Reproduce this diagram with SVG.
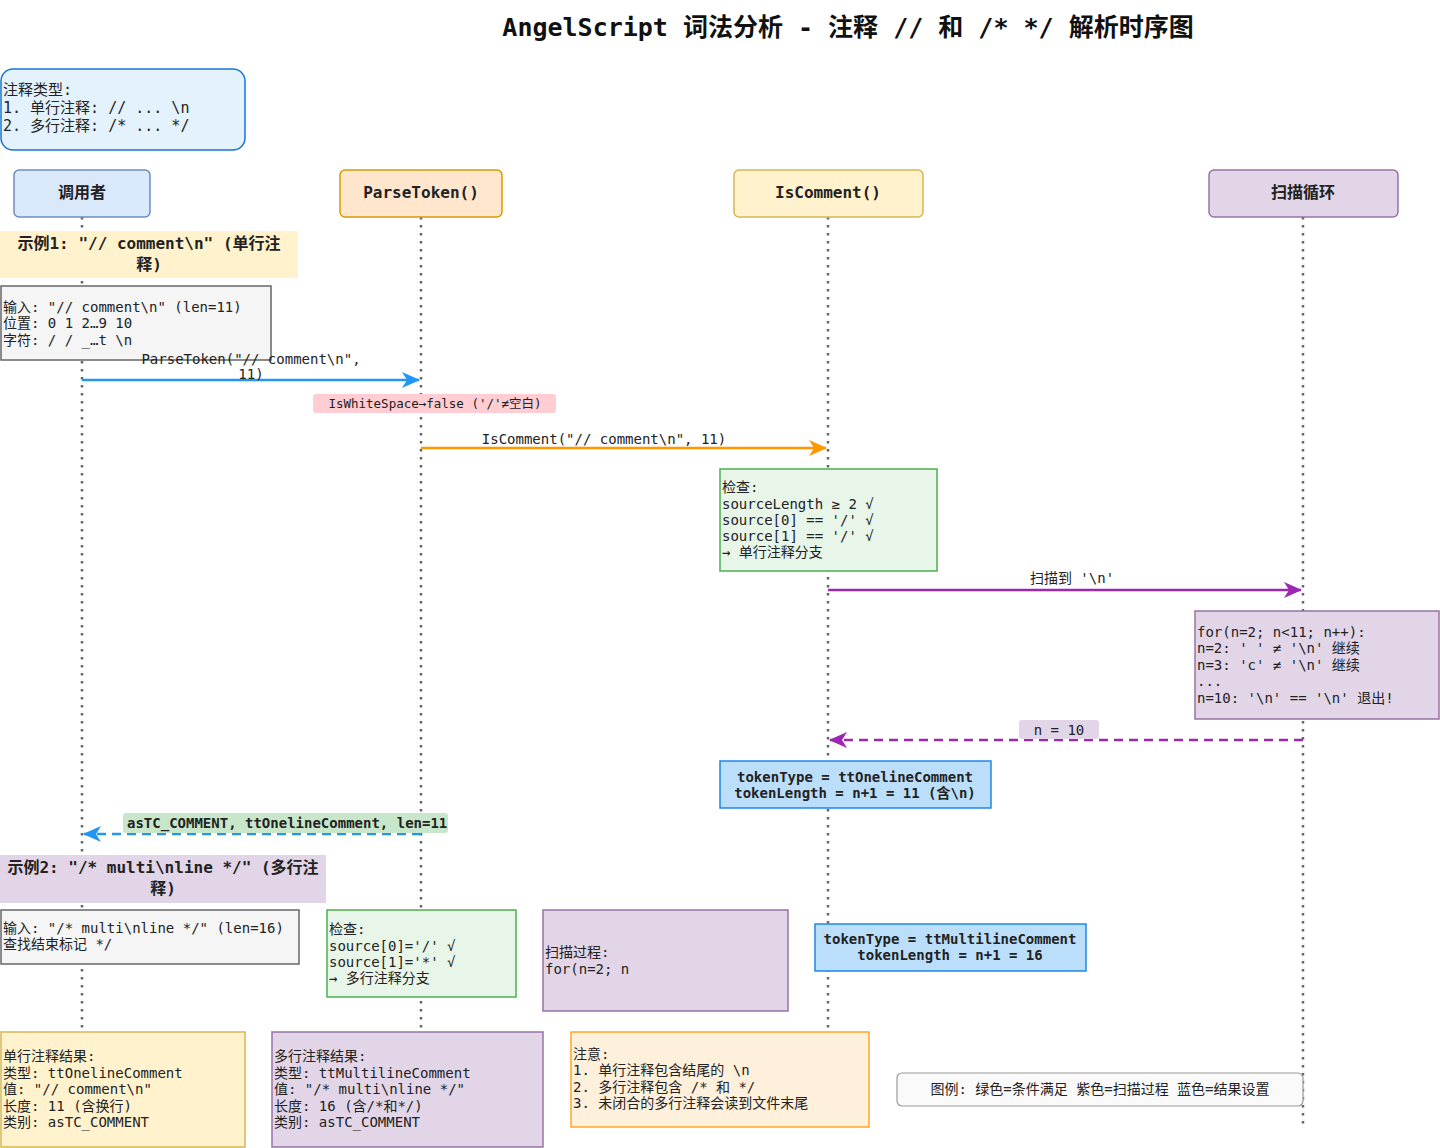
<svg xmlns="http://www.w3.org/2000/svg" width="1440" height="1148" viewBox="0 0 1440 1148">
<style>
text{font-family:"DejaVu Sans Mono","Noto Sans CJK SC",monospace;font-size:14px;fill:#222}
.t{font-size:25px;font-weight:bold;fill:#111}
.h{font-size:16px;font-weight:bold;text-anchor:middle}
.b{font-weight:bold}
.ex{font-size:16px;font-weight:bold;text-anchor:middle}
.c{text-anchor:middle}
.life{stroke:#666;stroke-width:2.5;stroke-dasharray:2.5 5.5;fill:none}
.msg{stroke-width:2.5;fill:none}
.dash{stroke-dasharray:9 6}
</style>
<defs>
<marker id="aBlue" markerUnits="userSpaceOnUse" markerWidth="18" markerHeight="16" refX="17" refY="8" orient="auto"><path d="M0,0 L18,8 L0,16 L5,8 Z" fill="#2196f3"/></marker>
<marker id="aOrange" markerUnits="userSpaceOnUse" markerWidth="18" markerHeight="16" refX="17" refY="8" orient="auto"><path d="M0,0 L18,8 L0,16 L5,8 Z" fill="#ff9800"/></marker>
<marker id="aPurple" markerUnits="userSpaceOnUse" markerWidth="18" markerHeight="16" refX="17" refY="8" orient="auto"><path d="M0,0 L18,8 L0,16 L5,8 Z" fill="#9c27b0"/></marker>
</defs>
<rect width="1440" height="1148" fill="#fff"/>
<text class="t" x="848" y="36" text-anchor="middle">AngelScript 词法分析 - 注释 // 和 /* */ 解析时序图</text>

<g id="lifelines">
<line class="life" x1="82" y1="217" x2="82" y2="1032"/>
<line class="life" x1="421" y1="217" x2="421" y2="1032"/>
<line class="life" x1="828" y1="217" x2="828" y2="1032"/>
<line class="life" x1="1303" y1="217" x2="1303" y2="1125"/>
</g>

<g id="note-types">
<rect x="1" y="69" width="244" height="81" rx="12" fill="#e3f2fd" stroke="#1976d2" stroke-width="1.5"/>
<text x="3" y="95" style="font-size:15px">注释类型:</text>
<text x="3" y="113" style="font-size:15px">1. 单行注释: // ... \n</text>
<text x="3" y="131" style="font-size:15px">2. 多行注释: /* ... */</text>
</g>

<g id="head-caller"><rect x="14" y="170" width="136" height="47" rx="5" fill="#dae8fc" stroke="#6c8ebf" stroke-width="1.5"/><text class="h" x="82" y="198">调用者</text></g>
<g id="head-parsetoken"><rect x="340" y="170" width="162" height="47" rx="5" fill="#ffe6cc" stroke="#d79b00" stroke-width="1.5"/><text class="h" x="421" y="198">ParseToken()</text></g>
<g id="head-iscomment"><rect x="734" y="170" width="189" height="47" rx="5" fill="#fff2cc" stroke="#d6b656" stroke-width="1.5"/><text class="h" x="828" y="198">IsComment()</text></g>
<g id="head-scan"><rect x="1209" y="170" width="189" height="47" rx="5" fill="#e1d5e7" stroke="#9673a6" stroke-width="1.5"/><text class="h" x="1303" y="198">扫描循环</text></g>

<g id="example1">
<rect x="0" y="231" width="298" height="47" fill="#fff2cc"/>
<text class="ex" x="149" y="249">示例1: "// comment\n" (单行注</text>
<text class="ex" x="149" y="270">释)</text>
</g>

<g id="input1">
<rect x="1" y="286" width="270" height="74" fill="#f5f5f5" stroke="#666" stroke-width="1.5"/>
<text x="3" y="312">输入: "// comment\n" (len=11)</text>
<text x="3" y="328">位置: 0 1 2…9 10</text>
<text x="3" y="345">字符: / / _…t \n</text>
</g>

<g id="connectors">
<line class="msg" x1="82" y1="380" x2="419" y2="380" stroke="#2196f3" marker-end="url(#aBlue)"/>
<line class="msg" x1="421" y1="448" x2="826" y2="448" stroke="#ff9800" marker-end="url(#aOrange)"/>
<line class="msg" x1="828" y1="590" x2="1301" y2="590" stroke="#9c27b0" marker-end="url(#aPurple)"/>
<line class="msg dash" x1="1303" y1="740" x2="830" y2="740" stroke="#9c27b0" marker-end="url(#aPurple)"/>
<line class="msg dash" x1="421" y1="834" x2="84" y2="834" stroke="#2196f3" marker-end="url(#aBlue)"/>
</g>

<g id="label-parsetoken">
<text class="c" x="251" y="364">ParseToken("// comment\n",</text>
<text class="c" x="251" y="379">11)</text>
</g>
<g id="label-whitespace">
<rect x="313" y="394" width="243" height="19" rx="3" fill="#ffcdd2"/>
<text class="c" x="435" y="408" style="font-size:12.5px">IsWhiteSpace→false ('/'≠空白)</text>
</g>
<g id="label-iscomment"><text class="c" x="604" y="444">IsComment("// comment\n", 11)</text></g>

<g id="check1">
<rect x="720" y="469" width="217" height="102" fill="#e8f5e9" stroke="#4caf50" stroke-width="1.5"/>
<text x="722" y="492">检查:</text>
<text x="722" y="509">sourceLength ≥ 2 √</text>
<text x="722" y="525">source[0] == '/' √</text>
<text x="722" y="541">source[1] == '/' √</text>
<text x="722" y="557">→ 单行注释分支</text>
</g>

<g id="label-scan"><text class="c" x="1072" y="583">扫描到 '\n'</text></g>

<g id="scan1">
<rect x="1195" y="611" width="244" height="108" fill="#e1d5e7" stroke="#9673a6" stroke-width="1.5"/>
<text x="1197" y="637">for(n=2; n&lt;11; n++):</text>
<text x="1197" y="653">n=2: ' ' ≠ '\n' 继续</text>
<text x="1197" y="670">n=3: 'c' ≠ '\n' 继续</text>
<text x="1197" y="686"> ...</text>
<text x="1197" y="703">n=10: '\n' == '\n' 退出!</text>
</g>

<g id="label-n10">
<rect x="1019" y="720" width="80" height="19" rx="3" fill="#e1d5e7"/>
<text class="c" x="1059" y="735">n = 10</text>
</g>

<g id="result-set1">
<rect x="720" y="761" width="271" height="47" fill="#bbdefb" stroke="#1e88e5" stroke-width="1.5"/>
<text class="c b" x="855" y="782">tokenType = ttOnelineComment</text>
<text class="c b" x="855" y="798">tokenLength = n+1 = 11 (含\n)</text>
</g>

<g id="label-return">
<rect x="123" y="813" width="325" height="20" rx="3" fill="#c8e6c9"/>
<text class="b" x="127" y="828">asTC_COMMENT, ttOnelineComment, len=11</text>
</g>

<g id="example2">
<rect x="0" y="855" width="326" height="48" fill="#e1d5e7"/>
<text class="ex" x="163" y="873">示例2: "/* multi\nline */" (多行注</text>
<text class="ex" x="163" y="894">释)</text>
</g>

<g id="input2">
<rect x="1" y="910" width="298" height="54" fill="#f5f5f5" stroke="#666" stroke-width="1.5"/>
<text x="3" y="933">输入: "/* multi\nline */" (len=16)</text>
<text x="3" y="949">查找结束标记 */</text>
</g>

<g id="check2">
<rect x="327" y="910" width="189" height="87" fill="#e8f5e9" stroke="#4caf50" stroke-width="1.5"/>
<text x="329" y="934">检查:</text>
<text x="329" y="951">source[0]='/' √</text>
<text x="329" y="967">source[1]='*' √</text>
<text x="329" y="983">→ 多行注释分支</text>
</g>

<g id="scan2">
<rect x="543" y="910" width="245" height="101" fill="#e1d5e7" stroke="#9673a6" stroke-width="1.5"/>
<text x="545" y="957">扫描过程:</text>
<text x="545" y="974">for(n=2; n</text>
</g>

<g id="result-set2">
<rect x="815" y="924" width="271" height="47" fill="#bbdefb" stroke="#1e88e5" stroke-width="1.5"/>
<text class="c b" x="950" y="944">tokenType = ttMultilineComment</text>
<text class="c b" x="950" y="960">tokenLength = n+1 = 16</text>
</g>

<g id="result-single">
<rect x="1" y="1032" width="244" height="115" fill="#fff2cc" stroke="#d6b656" stroke-width="1.5"/>
<text x="3" y="1061">单行注释结果:</text>
<text x="3" y="1078">类型: ttOnelineComment</text>
<text x="3" y="1094">值: "// comment\n"</text>
<text x="3" y="1111">长度: 11 (含换行)</text>
<text x="3" y="1127">类别: asTC_COMMENT</text>
</g>

<g id="result-multi">
<rect x="272" y="1032" width="271" height="115" fill="#e1d5e7" stroke="#9673a6" stroke-width="1.5"/>
<text x="274" y="1061">多行注释结果:</text>
<text x="274" y="1078">类型: ttMultilineComment</text>
<text x="274" y="1094">值: "/* multi\nline */"</text>
<text x="274" y="1111">长度: 16 (含/*和*/)</text>
<text x="274" y="1127">类别: asTC_COMMENT</text>
</g>

<g id="note-attention">
<rect x="571" y="1032" width="298" height="95" fill="#fff0dc" stroke="#ffa726" stroke-width="1.5"/>
<text x="573" y="1059">注意:</text>
<text x="573" y="1075">1. 单行注释包含结尾的 \n</text>
<text x="573" y="1092">2. 多行注释包含 /* 和 */</text>
<text x="573" y="1108">3. 未闭合的多行注释会读到文件末尾</text>
</g>

<g id="legend">
<rect x="897" y="1073" width="406" height="33" rx="5" fill="#fafafa" stroke="#999" stroke-width="1.2"/>
<text class="c" x="1100" y="1094">图例: 绿色=条件满足 紫色=扫描过程 蓝色=结果设置</text>
</g>
</svg>
